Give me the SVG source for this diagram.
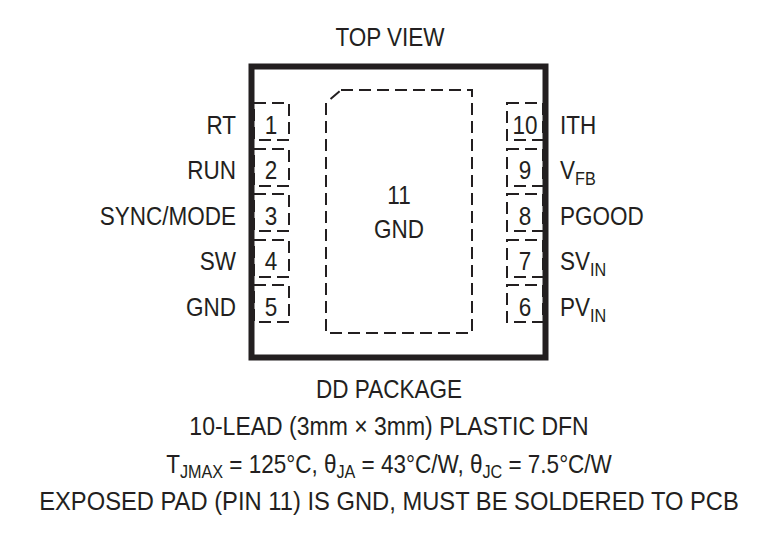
<svg xmlns="http://www.w3.org/2000/svg" width="777" height="537" viewBox="0 0 777 537">
<style>
text{font-family:"Liberation Sans",Arial,sans-serif;font-size:25px;fill:#231f20}
.l{text-anchor:end}.c{text-anchor:middle}
.d{fill:none;stroke:#231f20;stroke-width:2;stroke-dasharray:12,6}
.s{font-size:18px}
</style>
<rect width="777" height="537" fill="#fff"/>
<g id="package">
<rect x="251.5" y="66.5" width="294" height="291" fill="none" stroke="#231f20" stroke-width="6"/>
<path class="d" d="M341 90 H472 V333 H326 V103 Z"/>
</g>
<g id="pins-left">
<rect class="d" x="254" y="103" width="35" height="37"/><text class="c" transform="translate(271,134) scale(.9,1)">1</text><text class="l" transform="translate(236,134) scale(.9,1)">RT</text>
<rect class="d" x="254" y="149" width="35" height="37"/><text class="c" transform="translate(271,179) scale(.9,1)">2</text><text class="l" transform="translate(236,179) scale(.9,1)">RUN</text>
<rect class="d" x="254" y="194" width="35" height="37"/><text class="c" transform="translate(271,225) scale(.9,1)">3</text><text class="l" transform="translate(236,225) scale(.9,1)">SYNC/MODE</text>
<rect class="d" x="254" y="240" width="35" height="37"/><text class="c" transform="translate(271,270) scale(.9,1)">4</text><text class="l" transform="translate(236,270) scale(.9,1)">SW</text>
<rect class="d" x="254" y="285" width="35" height="37"/><text class="c" transform="translate(271,316) scale(.9,1)">5</text><text class="l" transform="translate(236,316) scale(.9,1)">GND</text>
</g>
<g id="pins-right">
<rect class="d" x="507" y="103" width="36" height="37"/><text class="c" transform="translate(525,134) scale(.9,1)">10</text><text transform="translate(560,134) scale(.9,1)">ITH</text>
<rect class="d" x="507" y="149" width="36" height="37"/><text class="c" transform="translate(525,179) scale(.9,1)">9</text><text transform="translate(560,179) scale(.9,1)">V<tspan class="s" dy="6">FB</tspan></text>
<rect class="d" x="507" y="194" width="36" height="37"/><text class="c" transform="translate(525,225) scale(.9,1)">8</text><text transform="translate(560,225) scale(.9,1)">PGOOD</text>
<rect class="d" x="507" y="240" width="36" height="37"/><text class="c" transform="translate(525,270) scale(.9,1)">7</text><text transform="translate(560,270) scale(.9,1)">SV<tspan class="s" dy="6">IN</tspan></text>
<rect class="d" x="507" y="285" width="36" height="37"/><text class="c" transform="translate(525,316) scale(.9,1)">6</text><text transform="translate(560,316) scale(.9,1)">PV<tspan class="s" dy="6">IN</tspan></text>
</g>
<g id="pad"><text class="c" transform="translate(399,204) scale(.9,1)">11</text><text class="c" transform="translate(399,238) scale(.9,1)">GND</text></g>
<g id="labels">
<text class="c" transform="translate(390,46) scale(.9,1)">TOP VIEW</text>
<text class="c" transform="translate(389,398) scale(.9,1)">DD PACKAGE</text>
<text class="c" transform="translate(389,435) scale(.92,1)">10-LEAD (3mm × 3mm) PLASTIC DFN</text>
<text class="c" transform="translate(389,473) scale(.9,1)">T<tspan class="s" dy="5">JMAX</tspan><tspan dy="-5"> = 125°C, θ</tspan><tspan class="s" dy="5">JA</tspan><tspan dy="-5"> = 43°C/W, θ</tspan><tspan class="s" dy="5">JC</tspan><tspan dy="-5"> = 7.5°C/W</tspan></text>
<text class="c" transform="translate(389,510) scale(.95,1)">EXPOSED PAD (PIN 11) IS GND, MUST BE SOLDERED TO PCB</text>
</g>
<g id="connectors"/>
</svg>
